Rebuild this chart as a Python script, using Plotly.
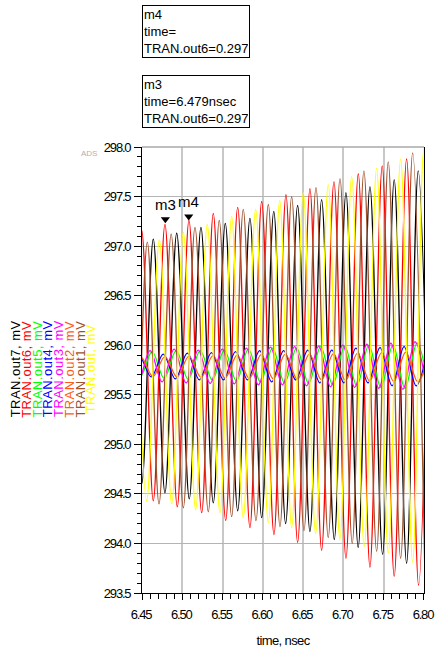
import plotly.graph_objects as go

# ---------------- data (extrema, time in nsec, values in mV) ----------------
out7_t = [6.4346, 6.4496, 6.4640, 6.4785, 6.4931, 6.5087, 6.5232, 6.5385, 6.5534, 6.5688, 6.5840, 6.5986, 6.6136,
          6.6283, 6.6432, 6.6585, 6.6730, 6.6887, 6.7032, 6.7184, 6.7330, 6.7487, 6.7631, 6.7785, 6.7929, 6.8084]
out7_mv = [297.02, 294.60, 297.07, 294.51, 297.13, 294.45, 297.19, 294.41, 297.23, 294.33, 297.28, 294.26, 297.35,
           294.20, 297.41, 294.12, 297.47, 294.04, 297.54, 293.96, 297.60, 293.89, 297.67, 293.80, 297.76, 293.72]

out6_t = [6.4346, 6.4496, 6.4640, 6.4785, 6.4938, 6.5083, 6.5241, 6.5385, 6.5539, 6.5688, 6.5840, 6.5986, 6.6138,
          6.6287, 6.6432, 6.6585, 6.6730, 6.6883, 6.7032, 6.7185, 6.7330, 6.7482, 6.7631, 6.7785, 6.7934, 6.8084]
out6_mv = [294.50, 297.16, 294.43, 297.22, 294.37, 297.26, 294.31, 297.33, 294.23, 297.39, 294.16, 297.45, 294.09,
           297.52, 294.01, 297.58, 293.93, 297.65, 293.85, 297.73, 293.76, 297.81, 293.67, 297.88, 293.58, 297.95]

out5_t = [6.4326, 6.4476, 6.4625, 6.4775, 6.4924, 6.5074, 6.5223, 6.5373, 6.5522, 6.5672, 6.5821, 6.5971, 6.6120,
          6.6270, 6.6419, 6.6569, 6.6718, 6.6868, 6.7017, 6.7167, 6.7316, 6.7466, 6.7615, 6.7765, 6.7914, 6.8064]
out5_mv = [295.93, 295.68, 295.935, 295.665, 295.945, 295.655, 295.945, 295.65, 295.95, 295.64, 295.96, 295.63, 295.97,
           295.62, 295.97, 295.615, 295.985, 295.60, 295.99, 295.59, 296.00, 295.575, 296.00, 295.565, 296.02, 295.555]

out4_t = [6.4316, 6.4465, 6.4615, 6.4764, 6.4914, 6.5063, 6.5213, 6.5362, 6.5512, 6.5661, 6.5811, 6.5960, 6.6110,
          6.6259, 6.6409, 6.6558, 6.6708, 6.6857, 6.7007, 6.7156, 6.7306, 6.7455, 6.7605, 6.7754, 6.7904, 6.8053]
out4_mv = [295.69, 295.89, 295.68, 295.91, 295.66, 295.92, 295.65, 295.925, 295.65, 295.935, 295.65, 295.945, 295.63,
           295.945, 295.65, 295.95, 295.62, 295.95, 295.62, 295.97, 295.62, 295.975, 295.59, 295.985, 295.59, 295.99]

out3_t = [6.4301, 6.4450, 6.4600, 6.4749, 6.4899, 6.5048, 6.5198, 6.5347, 6.5497, 6.5646, 6.5796, 6.5945, 6.6095,
          6.6244, 6.6394, 6.6543, 6.6693, 6.6842, 6.6992, 6.7141, 6.7291, 6.7440, 6.7590, 6.7739, 6.7889, 6.8038]
out3_mv = [295.94, 295.635, 295.945, 295.63, 295.96, 295.62, 295.95, 295.615, 295.96, 295.61, 295.97, 295.60, 295.98,
           295.60, 295.985, 295.59, 295.99, 295.58, 296.00, 295.575, 296.01, 295.565, 296.02, 295.555, 296.035, 295.55]

out2_t = [6.4336, 6.4485, 6.4635, 6.4784, 6.4934, 6.5083, 6.5233, 6.5382, 6.5532, 6.5681, 6.5831, 6.5980, 6.6130,
          6.6279, 6.6429, 6.6578, 6.6728, 6.6877, 6.7027, 6.7176, 6.7326, 6.7475, 6.7625, 6.7774, 6.7924, 6.8073]
out2_mv = [295.69, 295.88, 295.685, 295.885, 295.68, 295.89, 295.675, 295.895, 295.67, 295.90, 295.665, 295.905, 295.66,
           295.91, 295.655, 295.91, 295.65, 295.915, 295.645, 295.92, 295.64, 295.925, 295.635, 295.93, 295.63, 295.935]

out1_t = [6.4267, 6.4412, 6.4566, 6.4711, 6.4862, 6.5013, 6.5158, 6.5323, 6.5459, 6.5613, 6.5757, 6.5915, 6.6068,
          6.6213, 6.6358, 6.6511, 6.6660, 6.6812, 6.6958, 6.7110, 6.7255, 6.7413, 6.7557, 6.7711, 6.7860, 6.8010]
out1_mv = [296.98, 294.45, 297.04, 294.40, 297.12, 294.36, 297.19, 294.32, 297.26, 294.27, 297.37, 294.23, 297.42,
           294.17, 297.50, 294.13, 297.59, 294.06, 297.68, 294.00, 297.76, 293.92, 297.85, 293.85, 297.94, 293.78]

out_t = [6.4416, 6.4558, 6.4715, 6.4869, 6.5013, 6.5166, 6.5310, 6.5468, 6.5613, 6.5757, 6.5911, 6.6068, 6.6210,
         6.6358, 6.6502, 6.6656, 6.6812, 6.6957, 6.7103, 6.7259, 6.7413, 6.7557, 6.7711, 6.7860, 6.7999, 6.8159]
out_mv = [296.98, 294.43, 297.06, 294.40, 297.14, 294.34, 297.22, 294.31, 297.30, 294.26, 297.37, 294.21, 297.46,
          294.16, 297.54, 294.10, 297.62, 294.04, 297.70, 293.97, 297.79, 293.90, 297.88, 293.81, 297.98, 293.74]

series_names = ["TRAN.out7, mV", "TRAN.out6, mV", "TRAN.out5, mV", "TRAN.out4, mV",
                "TRAN.out3, mV", "TRAN.out2, mV", "TRAN.out1, mV", "TRAN.out, mV"]
series_colors = ["#000000", "#ff0000", "#00ff00", "#0000ff", "#ff00ff", "#ff5a14", "#a0522d", "#ffff00"]

marker_names = ["m3", "m4"]
marker_t = [6.479, 6.508]
marker_mv = [297.27, 297.30]
marker_boxes = ["m4<br>time=<br>TRAN.out6=0.297", "m3<br>time=6.479nsec<br>TRAN.out6=0.297"]

x_ticks = [6.45, 6.50, 6.55, 6.60, 6.65, 6.70, 6.75, 6.80]
y_ticks = [293.5, 294.0, 294.5, 295.0, 295.5, 296.0, 296.5, 297.0, 297.5, 298.0]

# ---------------- figure ----------------
W, H = 435, 648
L, R, T, B = 142, 424, 147, 593
PW, PH = R - L, B - T

def px(x):
    return (x - L) / PW

def py(y):
    return (B - y) / PH

def narrow(s, sp=-1.2):
    return f"<span style='letter-spacing:{sp}px'>{s}</span>"

fig = go.Figure()
all_t = [out7_t, out6_t, out5_t, out4_t, out3_t, out2_t, out1_t, out_t]
all_v = [out7_mv, out6_mv, out5_mv, out4_mv, out3_mv, out2_mv, out1_mv, out_mv]
for name, col, tt, vv in zip(series_names, series_colors, all_t, all_v):
    fig.add_trace(go.Scatter(x=tt, y=vv, mode="lines", name=name,
                             line=dict(color=col, width=1.3, shape="spline", smoothing=1.0),
                             hoverinfo="skip", showlegend=False))

fig.add_trace(go.Scatter(x=marker_t, y=marker_mv, mode="markers",
                         marker=dict(symbol="triangle-down", size=8, color="black"),
                         showlegend=False, hoverinfo="skip"))

tick_font = dict(family="Liberation Sans, Arial, sans-serif", size=13, color="black")

fig.update_layout(
    width=W, height=H,
    margin=dict(l=L, r=W - R, t=T, b=H - B, pad=0, autoexpand=False),
    paper_bgcolor="white", plot_bgcolor="white",
    xaxis=dict(range=[6.45, 6.8001], tickvals=x_ticks, ticktext=[narrow(f"{v:.2f}") for v in x_ticks],
               showgrid=True, gridcolor="#c8c8c8", gridwidth=1.5,
               showline=True, linecolor="black", linewidth=1,
               ticks="outside", ticklen=6, tickcolor="black", tickfont=tick_font,
               ticklabeloverflow="allow", ticklabelshift=-1, ticklabelstandoff=3,
               minor=dict(dtick=0.01, ticks="outside", ticklen=5, tickcolor="black", showgrid=False),
               zeroline=False, automargin=False,
               title=dict(text=narrow("time, nsec", -0.6), font=tick_font, standoff=19)),
    yaxis=dict(range=[293.5, 298.0], tickvals=y_ticks, ticktext=[narrow(f"{v:.1f}") for v in y_ticks],
               showgrid=True, gridcolor="#b4b4b4", gridwidth=1,
               showline=True, linecolor="black", linewidth=1, mirror=True,
               ticks="outside", ticklen=7, tickcolor="black", tickfont=tick_font,
               ticklabeloverflow="allow", ticklabelstandoff=1,
               minor=dict(dtick=0.1, ticks="outside", ticklen=4, tickcolor="black", showgrid=False),
               zeroline=False, automargin=False),
)

# top frame (gray grid line at 298.0)
fig.add_shape(type="line", xref="paper", yref="paper", x0=0, x1=1, y0=1, y1=1,
              line=dict(color="#a8a8a8", width=1.5))

# y-axis multi-colored titles
label_x = [15.3, 25.8, 36.5, 47.2, 58.0, 68.7, 79.5, 90.3]
for name, col, lx in zip(series_names, series_colors, label_x):
    fig.add_annotation(text=narrow(name, 0.45), xref="paper", yref="paper", x=px(lx), y=py(369),
                       xanchor="center", yanchor="middle", textangle=-90, showarrow=False,
                       font=dict(family="Liberation Sans, Arial, sans-serif", size=13, color=col))

# marker labels
for nm, mt, mv in zip(marker_names, marker_t, marker_mv):
    fig.add_annotation(text=nm, x=mt, y=mv, xref="x", yref="y", showarrow=False,
                       yanchor="bottom", yshift=4,
                       font=dict(family="Liberation Sans, Arial, sans-serif", size=15, color="black"))

# marker readout boxes
box_tops = [5, 75]
for txt, top in zip(marker_boxes, box_tops):
    fig.add_annotation(text=txt, xref="paper", yref="paper", x=px(141.5), y=py(top),
                       xanchor="left", yanchor="top", align="left", showarrow=False,
                       width=104, borderpad=1, bordercolor="black", borderwidth=1, bgcolor="white",
                       font=dict(family="Liberation Sans, Arial, sans-serif", size=13, color="black"))

# faint ADS logo text
fig.add_annotation(text="ADS", xref="paper", yref="paper", x=px(89), y=py(153),
                   xanchor="center", yanchor="middle", showarrow=False,
                   font=dict(family="Liberation Sans, Arial, sans-serif", size=8, color="#b0b0b0"))

fig.write_html("out.html", config={"displayModeBar": False},
               post_script="document.body.style.margin='0';document.body.style.overflow='hidden';")
